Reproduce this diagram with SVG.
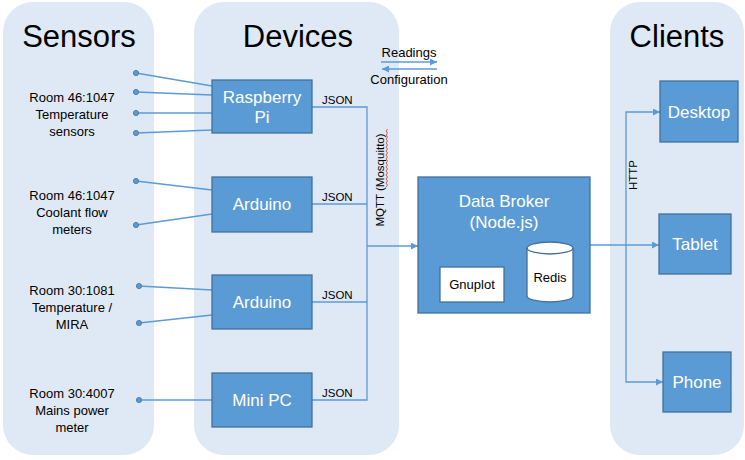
<svg xmlns="http://www.w3.org/2000/svg" width="745" height="460" viewBox="0 0 745 460">
<defs>
<style>
.panel{fill:#dee9f5;stroke:none}
.box{fill:#5b9bd5;stroke:#41719c;stroke-width:1.3}
.wbox{fill:#ffffff;stroke:#41719c;stroke-width:1.3}
.title{font-family:"Liberation Sans",Arial,sans-serif;font-size:31px;fill:#000;text-anchor:middle}
.lbl{font-family:"Liberation Sans",Arial,sans-serif;font-size:17px;fill:#fff;text-anchor:middle}
.sl{font-family:"Liberation Sans",Arial,sans-serif;font-size:13px;fill:#000;text-anchor:middle}
.sm{font-family:"Liberation Sans",Arial,sans-serif;font-size:11.5px;fill:#000}
.conn{fill:none;stroke:#5b9bd5;stroke-width:1.3}
.dot{fill:#5b9bd5;stroke:#41719c;stroke-width:0.8}
</style>
<marker id="ah" viewBox="0 0 10 10" refX="10" refY="5" markerWidth="7" markerHeight="7" markerUnits="userSpaceOnUse" orient="auto">
<path d="M0,0 L10,5 L0,10 z" fill="#5b9bd5"/>
</marker>
</defs>

<g id="panels">
<rect class="panel" x="3" y="2" width="151" height="453" rx="30"/>
<rect class="panel" x="194" y="2" width="205" height="453" rx="30"/>
<rect class="panel" x="610" y="2" width="134" height="453" rx="30"/>
<text class="title" x="79" y="47">Sensors</text>
<text class="title" x="298" y="47">Devices</text>
<text class="title" x="677" y="47">Clients</text>
</g>

<g id="legend">
<text class="sl" x="409" y="57">Readings</text>
<text class="sl" x="409" y="84">Configuration</text>
</g>

<g id="sensors">
<g id="s1">
<text class="sl" x="72" y="102">Room 46:1047</text>
<text class="sl" x="72" y="119">Temperature</text>
<text class="sl" x="72" y="136">sensors</text>
</g>
<g id="s2">
<text class="sl" x="72" y="200">Room 46:1047</text>
<text class="sl" x="72" y="217">Coolant flow</text>
<text class="sl" x="72" y="234">meters</text>
</g>
<g id="s3">
<text class="sl" x="72" y="295">Room 30:1081</text>
<text class="sl" x="72" y="312">Temperature /</text>
<text class="sl" x="72" y="329">MIRA</text>
</g>
<g id="s4">
<text class="sl" x="72" y="398">Room 30:4007</text>
<text class="sl" x="72" y="415">Mains power</text>
<text class="sl" x="72" y="432">meter</text>
</g>
</g>

<g id="connectors">
<line class="conn" x1="381" y1="62" x2="437" y2="62" marker-end="url(#ah)"/>
<line class="conn" x1="437" y1="69" x2="382" y2="69" marker-end="url(#ah)"/>
<line class="conn" x1="136" y1="73" x2="212" y2="86"/>
<line class="conn" x1="136" y1="92" x2="212" y2="95"/>
<line class="conn" x1="136" y1="113" x2="212" y2="113"/>
<line class="conn" x1="136" y1="133" x2="212" y2="130"/>
<line class="conn" x1="136" y1="181" x2="212" y2="190"/>
<line class="conn" x1="136" y1="225" x2="212" y2="214"/>
<line class="conn" x1="139" y1="286" x2="212" y2="290"/>
<line class="conn" x1="139" y1="323" x2="212" y2="315"/>
<line class="conn" x1="139" y1="400" x2="212" y2="400"/>
<circle class="dot" cx="136" cy="73" r="2.6"/>
<circle class="dot" cx="136" cy="92" r="2.6"/>
<circle class="dot" cx="136" cy="113" r="2.6"/>
<circle class="dot" cx="136" cy="133" r="2.6"/>
<circle class="dot" cx="136" cy="181" r="2.6"/>
<circle class="dot" cx="136" cy="225" r="2.6"/>
<circle class="dot" cx="139" cy="286" r="2.6"/>
<circle class="dot" cx="139" cy="323" r="2.6"/>
<circle class="dot" cx="139" cy="400" r="2.6"/>
<path class="conn" d="M312,107 H367 V400 H312"/>
<path class="conn" d="M312,204 H367"/>
<path class="conn" d="M312,302 H367"/>
<line class="conn" x1="367" y1="246" x2="418" y2="246" marker-end="url(#ah)"/>
<line class="conn" x1="590" y1="245" x2="659" y2="245" marker-end="url(#ah)"/>
<path class="conn" d="M626,245 V112 H660" marker-end="url(#ah)"/>
<path class="conn" d="M626,245 V382 H663" marker-end="url(#ah)"/>
<text class="sm" x="322" y="104">JSON</text>
<text class="sm" x="322" y="201">JSON</text>
<text class="sm" x="322" y="299">JSON</text>
<text class="sm" x="322" y="397">JSON</text>
<text class="sm" font-size="12.5" text-anchor="middle" transform="translate(384,180) rotate(-90)">MQTT (Mosquitto)</text>
<path d="M386,187 l1.5,-2 l-1.5,-2 l1.5,-2 l-1.5,-2 l1.5,-2 l-1.5,-2 l1.5,-2 l-1.5,-2 l1.5,-2 l-1.5,-2 l1.5,-2 l-1.5,-2 l1.5,-2 l-1.5,-2 l1.5,-2 l-1.5,-2 l1.5,-2 l-1.5,-2 l1.5,-2 l-1.5,-2 l1.5,-2 l-1.5,-2 l1.5,-2 l-1.5,-2 l1.5,-2 l-1.5,-2 l1.5,-2 l-1.5,-2 l1.5,-2" fill="none" stroke="#e03030" stroke-width="0.8"/>
<text class="sm" text-anchor="middle" transform="translate(637,175) rotate(-90)">HTTP</text>
</g>

<g id="raspberry">
<rect class="box" x="212" y="80" width="100" height="53"/>
<text class="lbl" x="262" y="103">Raspberry</text>
<text class="lbl" x="262" y="123">Pi</text>
</g>
<g id="arduino1">
<rect class="box" x="212" y="177" width="100" height="55"/>
<text class="lbl" x="262" y="210">Arduino</text>
</g>
<g id="arduino2">
<rect class="box" x="212" y="275" width="100" height="54"/>
<text class="lbl" x="262" y="308">Arduino</text>
</g>
<g id="minipc">
<rect class="box" x="212" y="373" width="100" height="54"/>
<text class="lbl" x="262" y="406">Mini PC</text>
</g>

<g id="broker">
<rect class="box" x="418" y="177" width="172" height="136"/>
<text class="lbl" x="504" y="207" font-size="16.5">Data Broker</text>
<text class="lbl" x="504" y="228" font-size="16.5">(Node.js)</text>
</g>
<g id="gnuplot">
<rect class="wbox" x="440" y="267" width="64" height="35"/>
<text class="sl" x="472" y="289">Gnuplot</text>
</g>
<g id="redis">
<path class="wbox" d="M527,248 A23,6 0 0 1 573,248 V296 A23,6 0 0 1 527,296 Z"/>
<path d="M527,248 A23,6 0 0 0 573,248" fill="none" stroke="#41719c" stroke-width="1.3"/>
<text class="sl" x="550" y="282">Redis</text>
</g>

<g id="desktop">
<rect class="box" x="660" y="81" width="78" height="61"/>
<text class="lbl" x="699" y="118">Desktop</text>
</g>
<g id="tablet">
<rect class="box" x="659" y="214" width="72" height="60"/>
<text class="lbl" x="695" y="250">Tablet</text>
</g>
<g id="phone">
<rect class="box" x="663" y="352" width="68" height="60"/>
<text class="lbl" x="697" y="388">Phone</text>
</g>
</svg>
